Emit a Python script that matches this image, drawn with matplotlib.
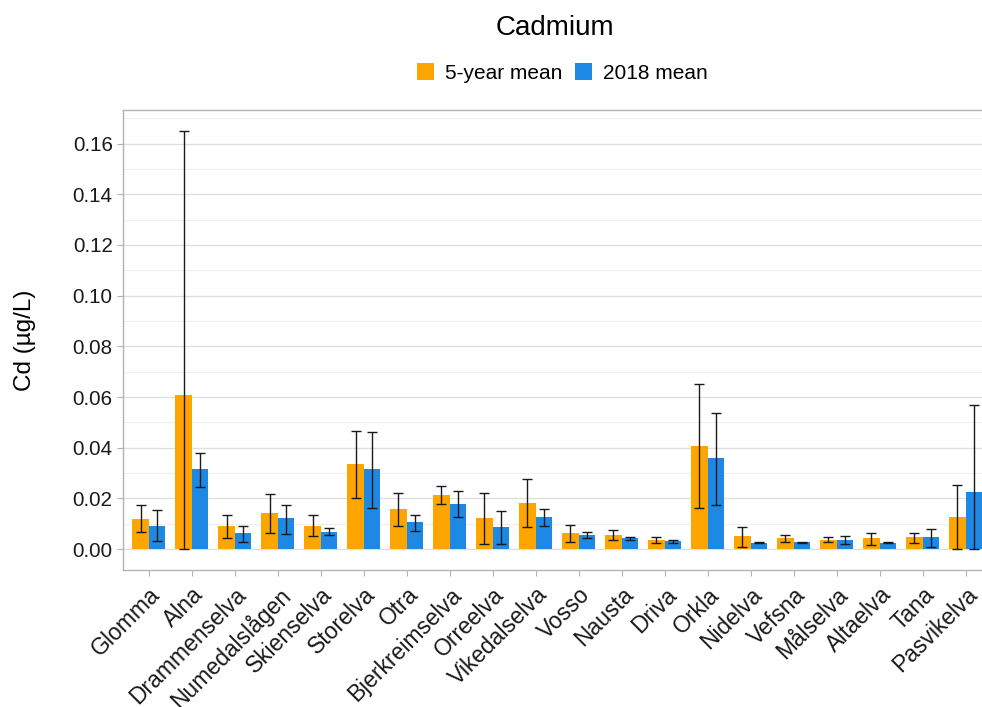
import numpy as np
import matplotlib
matplotlib.use("Agg")
import matplotlib.pyplot as plt
from matplotlib.patches import Patch
from matplotlib.ticker import MultipleLocator

plt.rcParams['font.family'] = ['Liberation Sans', 'DejaVu Sans']

rivers = ["Glomma", "Alna", "Drammenselva", "Numedalslågen", "Skienselva",
          "Storelva", "Otra", "Bjerkreimselva", "Orreelva", "Vikedalselva",
          "Vosso", "Nausta", "Driva", "Orkla", "Nidelva", "Vefsna",
          "Målselva", "Altaelva", "Tana", "Pasvikelva"]

# 5-year mean with min/max range
mean5 = [0.0119, 0.0606, 0.0092, 0.0142, 0.0092, 0.0336, 0.0158, 0.0214, 0.0123, 0.0183,
         0.0062, 0.0057, 0.0036, 0.0406, 0.0051, 0.0042, 0.0036, 0.0042, 0.0047, 0.0128]
low5 = [0.0066, 0.0000, 0.0045, 0.0065, 0.0050, 0.0202, 0.0090, 0.0177, 0.0020, 0.0086,
        0.0029, 0.0034, 0.0024, 0.0162, 0.0009, 0.0029, 0.0028, 0.0015, 0.0024, 0.0000]
high5 = [0.0172, 0.1650, 0.0136, 0.0218, 0.0136, 0.0467, 0.0223, 0.0248, 0.0223, 0.0278,
         0.0096, 0.0077, 0.0046, 0.0650, 0.0086, 0.0055, 0.0046, 0.0065, 0.0065, 0.0253]

# 2018 mean with min/max range
mean18 = [0.0092, 0.0317, 0.0062, 0.0123, 0.0066, 0.0315, 0.0107, 0.0178, 0.0088, 0.0128,
          0.0057, 0.0042, 0.0032, 0.0361, 0.0025, 0.0026, 0.0036, 0.0025, 0.0047, 0.0226]
low18 = [0.0030, 0.0244, 0.0029, 0.0059, 0.0055, 0.0162, 0.0071, 0.0127, 0.0020, 0.0091,
         0.0045, 0.0036, 0.0024, 0.0175, 0.0024, 0.0025, 0.0020, 0.0024, 0.0009, 0.0000]
high18 = [0.0156, 0.0381, 0.0091, 0.0175, 0.0082, 0.0462, 0.0136, 0.0228, 0.0152, 0.0157,
          0.0066, 0.0046, 0.0034, 0.0537, 0.0026, 0.0028, 0.0050, 0.0026, 0.0080, 0.0569]

col5 = "#FFA500"
col18 = "#1E88E5"

fig = plt.figure(figsize=(9.82, 7.07), dpi=100)
ax = fig.add_axes([0.1253, 0.1938, 0.8843, 0.6506])

x = np.arange(len(rivers))
w = 0.385

m5 = np.array(mean5)
m18 = np.array(mean18)
ax.bar(x - w / 2, m5, w, color=col5, zorder=2)
ax.bar(x + w / 2, m18, w, color=col18, zorder=2)
ax.errorbar(x - w / 2, m5, yerr=[m5 - np.array(low5), np.array(high5) - m5],
            fmt="none", ecolor="#1a1a1a", elinewidth=1.0, capsize=3.6, capthick=1.0, zorder=3)
ax.errorbar(x + w / 2, m18, yerr=[m18 - np.array(low18), np.array(high18) - m18],
            fmt="none", ecolor="#1a1a1a", elinewidth=1.0, capsize=3.6, capthick=1.0, zorder=3)

ax.set_xlim(-0.6, len(rivers) - 0.4)
ax.set_ylim(-0.00825, 0.17325)
ax.yaxis.set_major_locator(MultipleLocator(0.02))
ax.yaxis.set_minor_locator(MultipleLocator(0.01))
ax.yaxis.set_major_formatter(plt.FormatStrFormatter("%.2f"))
ax.grid(axis="y", which="major", color="#DEDEDE", lw=0.9, zorder=0)
ax.grid(axis="y", which="minor", color="#EBEBEB", lw=0.6, zorder=0)
ax.set_axisbelow(True)

ax.set_xticks(x)
ax.set_xticklabels(rivers, rotation=45, ha="right", va="top", rotation_mode="anchor",
                   fontsize=16.5, color="#1a1a1a")
ax.tick_params(axis="x", which="major", length=4.5, color="#B3B3B3", pad=5)
ax.tick_params(axis="y", which="major", length=4.5, color="#B3B3B3", pad=3,
               labelsize=14.8, labelcolor="#1a1a1a")
ax.tick_params(axis="y", which="minor", length=0)

for s in ax.spines.values():
    s.set_color("#B3B3B3")
    s.set_linewidth(1.0)

fig.text(0.025, 0.1938 + 0.6506 / 2, "Cd (µg/L)", rotation=90,
         ha="center", va="center", fontsize=17.5, color="#000000")

fig.text(0.5653, 1 - 28 / 707, "Cadmium", ha="center", va="center", fontsize=20)

handles = [Patch(facecolor=col5, label="5-year mean"),
           Patch(facecolor=col18, label="2018 mean")]
fig.legend(handles=handles, loc="center", bbox_to_anchor=(0.5725, 1 - 73 / 707),
           ncol=2, frameon=False, fontsize=15, handlelength=0.85, handleheight=0.85,
           handletextpad=0.5, columnspacing=0.6, borderpad=0)

fig.savefig("out.png", dpi=100)
